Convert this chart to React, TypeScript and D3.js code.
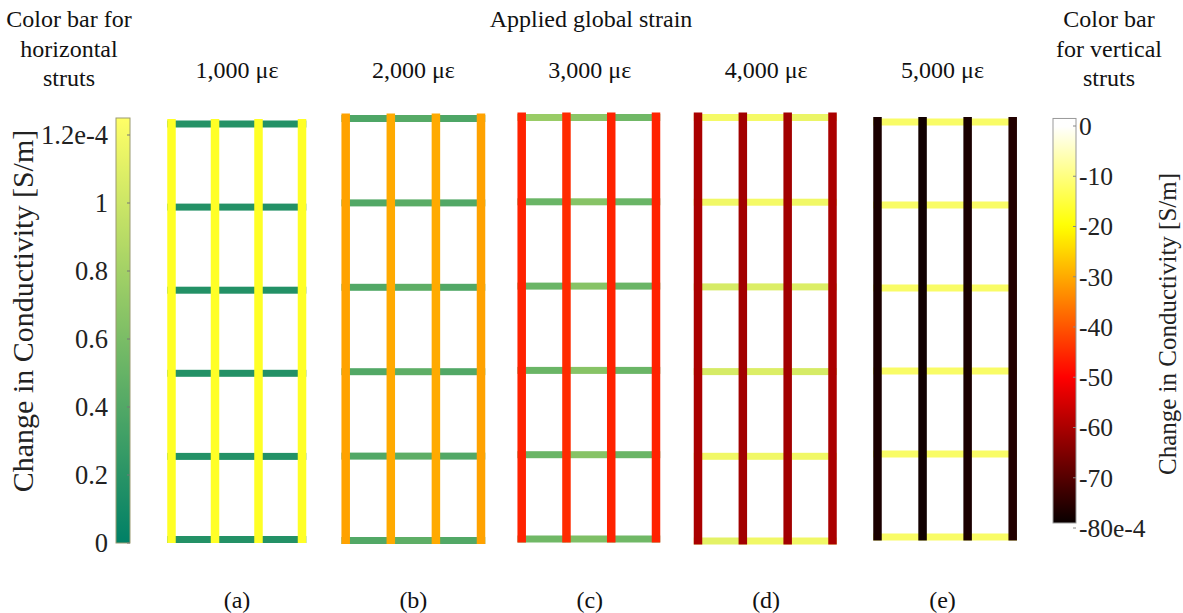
import React from "react";
import * as d3 from "d3";

// Applied global strain levels, one lattice per level
const strainLabels = ["1,000 με", "2,000 με", "3,000 με", "4,000 με", "5,000 με"];
const panelTags = ["(a)", "(b)", "(c)", "(d)", "(e)"];

// Change in conductivity of the vertical struts (×1e-4 S/m), 4 struts per lattice (left → right)
const verticalA = [-17, -17, -17, -17];
const verticalB = [-31, -30, -30, -31];
const verticalC = [-46, -45, -46, -46];
const verticalD = [-60, -61, -61, -60];
const verticalE = [-77, -78, -77, -76];

// Change in conductivity of the horizontal struts (×1e-4 S/m),
// 6 rows (bottom → top), 3 segments per row (left → right)
const horizontalA = [
  [0.17, 0.17, 0.17],
  [0.17, 0.17, 0.17],
  [0.17, 0.17, 0.17],
  [0.17, 0.17, 0.17],
  [0.17, 0.17, 0.17],
  [0.18, 0.18, 0.17],
];
const horizontalB = [
  [0.4, 0.46, 0.4],
  [0.4, 0.46, 0.4],
  [0.4, 0.46, 0.4],
  [0.4, 0.46, 0.4],
  [0.4, 0.44, 0.4],
  [0.38, 0.42, 0.38],
];
const horizontalC = [
  [0.55, 0.62, 0.55],
  [0.52, 0.66, 0.52],
  [0.52, 0.66, 0.52],
  [0.52, 0.66, 0.52],
  [0.52, 0.66, 0.52],
  [0.75, 0.68, 0.55],
];
const horizontalD = [
  [1.12, 1.18, 1.18],
  [1.18, 1.18, 1.18],
  [1.05, 1.08, 1.05],
  [1.05, 1.08, 1.08],
  [1.18, 1.2, 1.18],
  [1.2, 1.2, 1.15],
];
const horizontalE = [
  [1.22, 1.22, 1.22],
  [1.22, 1.22, 1.22],
  [1.22, 1.22, 1.22],
  [1.22, 1.22, 1.22],
  [1.22, 1.22, 1.22],
  [1.22, 1.22, 1.22],
];

const verticalValues = [verticalA, verticalB, verticalC, verticalD, verticalE];
const horizontalValues = [horizontalA, horizontalB, horizontalC, horizontalD, horizontalE];

// Colour bar ticks
const hTicks = [0, 0.2, 0.4, 0.6, 0.8, 1, 1.2];
const hTickLabels = ["0", "0.2", "0.4", "0.6", "0.8", "1", "1.2e-4"];
const vTicks = [0, -10, -20, -30, -40, -50, -60, -70, -80];
const vTickLabels = ["0", "-10", "-20", "-30", "-40", "-50", "-60", "-70", "-80e-4"];

const W = 1183;
const H = 613;
const FONT = "Liberation Serif, Times New Roman, serif";

// Screen frame of each rendered lattice (outer strut centre lines, in px)
const frameLeft = [171.5, 345.7, 521.7, 698, 877.5];
const frameRight = [302, 481, 656, 832.5, 1012.7];
const frameTop = [124, 118.5, 117.5, 117.5, 122];
const frameBottom = [539.5, 540.5, 539, 541, 537];

// MATLAB-style colormaps
const summer = (t: number) => {
  const c = Math.max(0, Math.min(1, t));
  return d3.rgb(255 * c, 255 * (0.5 + 0.5 * c), 255 * 0.4).toString();
};
const hot = (t: number) => {
  const c = Math.max(0, Math.min(1, t));
  const r = Math.min(1, c / 0.375);
  const g = Math.max(0, Math.min(1, (c - 0.375) / 0.375));
  const b = Math.max(0, Math.min(1, (c - 0.75) / 0.25));
  return d3.rgb(255 * r, 255 * g, 255 * b).toString();
};

const hDomain: [number, number] = [0, 1.25];
const vDomain: [number, number] = [-80, 0];
const hColor = d3.scaleSequential(summer).domain(hDomain);
const vColor = d3.scaleSequential(hot).domain(vDomain);

// Label positions
const panelX = d3.scalePoint<number>().domain(d3.range(5)).range([237, 942.5]);
const vStrutW = 8.5;
const hStrutW = 7;

// Colour bar scales
const hBarY = d3.scaleLinear().domain(hDomain).range([543, 118]);
const vBarY = d3.scaleLinear().domain(vDomain).range([528, 126]);
const vBarExtent: [number, number] = [-79, 1.5];

function gradientStops(color: (v: number) => string, domain: [number, number]) {
  return d3.range(0, 1.0001, 0.02).map((t) => ({
    offset: `${(t * 100).toFixed(1)}%`,
    color: color(domain[0] + t * (domain[1] - domain[0])),
  }));
}

export default function App() {
  const hStops = gradientStops((v) => hColor(v), hDomain);
  const vStops = gradientStops((v) => vColor(v), vBarExtent);

  const hBarX = 116;
  const hBarW = 14;
  const vBarX = 1053;
  const vBarW = 23;

  return (
    <svg
      width={W}
      height={H}
      style={{ position: "absolute", left: 0, top: 0, background: "#fff", fontFamily: FONT }}
    >
      <defs>
        <linearGradient id="hbar" x1="0" y1="1" x2="0" y2="0">
          {hStops.map((s, i) => (
            <stop key={i} offset={s.offset} stopColor={s.color} />
          ))}
        </linearGradient>
        <linearGradient id="vbar" x1="0" y1="1" x2="0" y2="0">
          {vStops.map((s, i) => (
            <stop key={i} offset={s.offset} stopColor={s.color} />
          ))}
        </linearGradient>
      </defs>

      {/* Headings */}
      <g fontSize={24} textAnchor="middle" fill="#111">
        <text x={69} y={27}>Color bar for</text>
        <text x={69} y={57}>horizontal</text>
        <text x={69} y={86}>struts</text>
        <text x={591} y={27}>Applied global strain</text>
        <text x={1109} y={27}>Color bar</text>
        <text x={1109} y={57}>for vertical</text>
        <text x={1109} y={86}>struts</text>
        {strainLabels.map((s, i) => (
          <text key={s} x={panelX(i)} y={78}>{s}</text>
        ))}
        {panelTags.map((s, i) => (
          <text key={s} x={panelX(i)} y={608}>{s}</text>
        ))}
      </g>

      {/* Lattices: horizontal struts first, vertical struts drawn over them */}
      {d3.range(5).map((p) => {
        const colX = d3.scaleLinear().domain([0, 3]).range([frameLeft[p], frameRight[p]]);
        const rowY = d3.scaleLinear().domain([0, 5]).range([frameBottom[p], frameTop[p]]);
        const xs = d3.range(4).map((c) => colX(c));
        return (
          <g key={p}>
            {horizontalValues[p].map((row, r) =>
              row.map((v, s) => {
                const x0 = s === 0 ? xs[0] - vStrutW / 2 : xs[s];
                const x1 = s === 2 ? xs[3] + vStrutW / 2 : xs[s + 1];
                return (
                  <rect
                    key={`h${r}-${s}`}
                    x={x0}
                    y={rowY(r) - hStrutW / 2}
                    width={x1 - x0}
                    height={hStrutW}
                    fill={hColor(v)}
                  />
                );
              })
            )}
            {verticalValues[p].map((v, c) => (
              <rect
                key={`v${c}`}
                x={xs[c] - vStrutW / 2}
                y={rowY(5) - 5}
                width={vStrutW}
                height={rowY(0) - rowY(5) + 8.5}
                fill={vColor(v)}
              />
            ))}
          </g>
        );
      })}

      {/* Colour bar for horizontal struts */}
      <rect
        x={hBarX}
        y={hBarY(hDomain[1])}
        width={hBarW}
        height={hBarY(hDomain[0]) - hBarY(hDomain[1])}
        fill="url(#hbar)"
        stroke="#9a9a70"
        strokeWidth={1}
      />
      {hTicks.map((t, i) => (
        <g key={t}>
          <line
            x1={hBarX + hBarW - 3}
            x2={hBarX + hBarW}
            y1={hBarY(t)}
            y2={hBarY(t)}
            stroke="#777"
            strokeWidth={1}
          />
          <text
            x={108}
            y={hBarY(t)}
            dy="0.35em"
            fontSize={26.5}
            textAnchor="end"
            fill="#222"
          >
            {hTickLabels[i]}
          </text>
        </g>
      ))}
      <text
        transform={`translate(33,311) rotate(-90)`}
        fontSize={30}
        textAnchor="middle"
        fill="#222"
      >
        Change in Conductivity [S/m]
      </text>

      {/* Colour bar for vertical struts */}
      <rect
        x={vBarX}
        y={vBarY(vBarExtent[1])}
        width={vBarW}
        height={vBarY(vBarExtent[0]) - vBarY(vBarExtent[1])}
        fill="url(#vbar)"
        stroke="#999"
        strokeWidth={1}
      />
      {vTicks.map((t, i) => (
        <g key={t}>
          <line
            x1={vBarX + vBarW - 3}
            x2={vBarX + vBarW}
            y1={vBarY(t)}
            y2={vBarY(t)}
            stroke="#888"
            strokeWidth={1}
          />
          <text
            x={1079}
            y={vBarY(t)}
            dy="0.35em"
            fontSize={25.5}
            textAnchor="start"
            fill="#222"
          >
            {vTickLabels[i]}
          </text>
        </g>
      ))}
      <text
        transform={`translate(1176,324) rotate(-90)`}
        fontSize={25}
        textAnchor="middle"
        fill="#222"
      >
        Change in Conductivity [S/m]
      </text>
    </svg>
  );
}
